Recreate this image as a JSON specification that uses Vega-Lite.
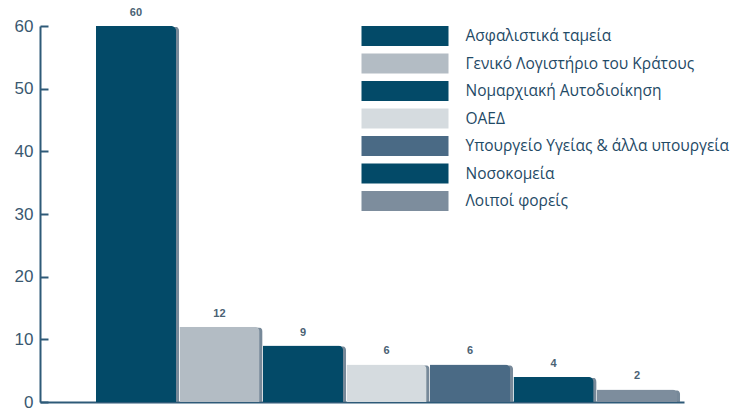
{
  "$schema": "https://vega.github.io/schema/vega-lite/v6.json",
  "width": 644,
  "height": 376,
  "autosize": "none",
  "padding": {"left": 40, "top": 26, "right": 47, "bottom": 7},
  "background": "white",
  "view": {"stroke": null},
  "data": {"values": [
    {"category": "Ασφαλιστικά ταμεία", "value": 60},
    {"category": "Γενικό Λογιστήριο του Κράτους", "value": 12},
    {"category": "Νομαρχιακή Αυτοδιοίκηση", "value": 9},
    {"category": "ΟΑΕΔ", "value": 6},
    {"category": "Υπουργείο Υγείας & άλλα υπουργεία", "value": 6},
    {"category": "Νοσοκομεία", "value": 4},
    {"category": "Λοιποί φορείς", "value": 2}
  ]},
  "encoding": {
    "x": {
      "field": "category", "type": "nominal", "sort": null,
      "scale": {"paddingInner": 0.04, "paddingOuter": 0.376, "align": 0.89},
      "axis": {"labels": false, "ticks": false, "title": null, "domain": true, "domainColor": "#2e5a78", "domainWidth": 2}
    },
    "y": {
      "field": "value", "type": "quantitative",
      "scale": {"domain": [0, 60], "nice": false},
      "axis": {
        "title": null, "values": [0, 10, 20, 30, 40, 50, 60], "grid": false,
        "domainColor": "#2e5a78", "domainWidth": 2,
        "tickColor": "#2e5a78", "tickWidth": 2, "tickSize": -8,
        "labelColor": "#3a5870", "labelFontSize": 17, "labelFont": "Liberation Sans",
        "labelPadding": 15
      }
    }
  },
  "layer": [
    {
      "mark": {"type": "bar", "color": "#5f7487", "opacity": 0.85, "xOffset": 3, "yOffset": 1, "cornerRadiusTopRight": 5}
    },
    {
      "mark": {"type": "bar", "cornerRadiusTopRight": 5},
      "encoding": {
        "color": {
          "field": "category", "type": "nominal", "sort": null,
          "scale": {
            "domain": ["Ασφαλιστικά ταμεία", "Γενικό Λογιστήριο του Κράτους", "Νομαρχιακή Αυτοδιοίκηση", "ΟΑΕΔ", "Υπουργείο Υγείας & άλλα υπουργεία", "Νοσοκομεία", "Λοιποί φορείς"],
            "range": ["#034a68", "#b3bcc4", "#034a68", "#d5dbdf", "#4a6a85", "#034a68", "#7d8d9d"]
          },
          "legend": {
            "title": null, "orient": "none", "legendX": 355, "legendY": 0,
            "padding": 0,
            "symbolType": "M-4.35,-1H4.35V1H-4.35Z", "symbolSize": 400,
            "symbolStrokeWidth": 0, "symbolOpacity": 1,
            "rowPadding": 7.5, "labelOffset": 50.5,
            "labelFontSize": 15.5, "labelFont": "Open Sans", "labelColor": "#1f4a66",
            "labelLimit": 0
          }
        }
      }
    },
    {
      "mark": {"type": "text", "baseline": "bottom", "dy": -8, "fontSize": 11, "fontWeight": "bold", "color": "#4a6274"},
      "encoding": {"text": {"field": "value", "type": "quantitative"}}
    }
  ]
}
